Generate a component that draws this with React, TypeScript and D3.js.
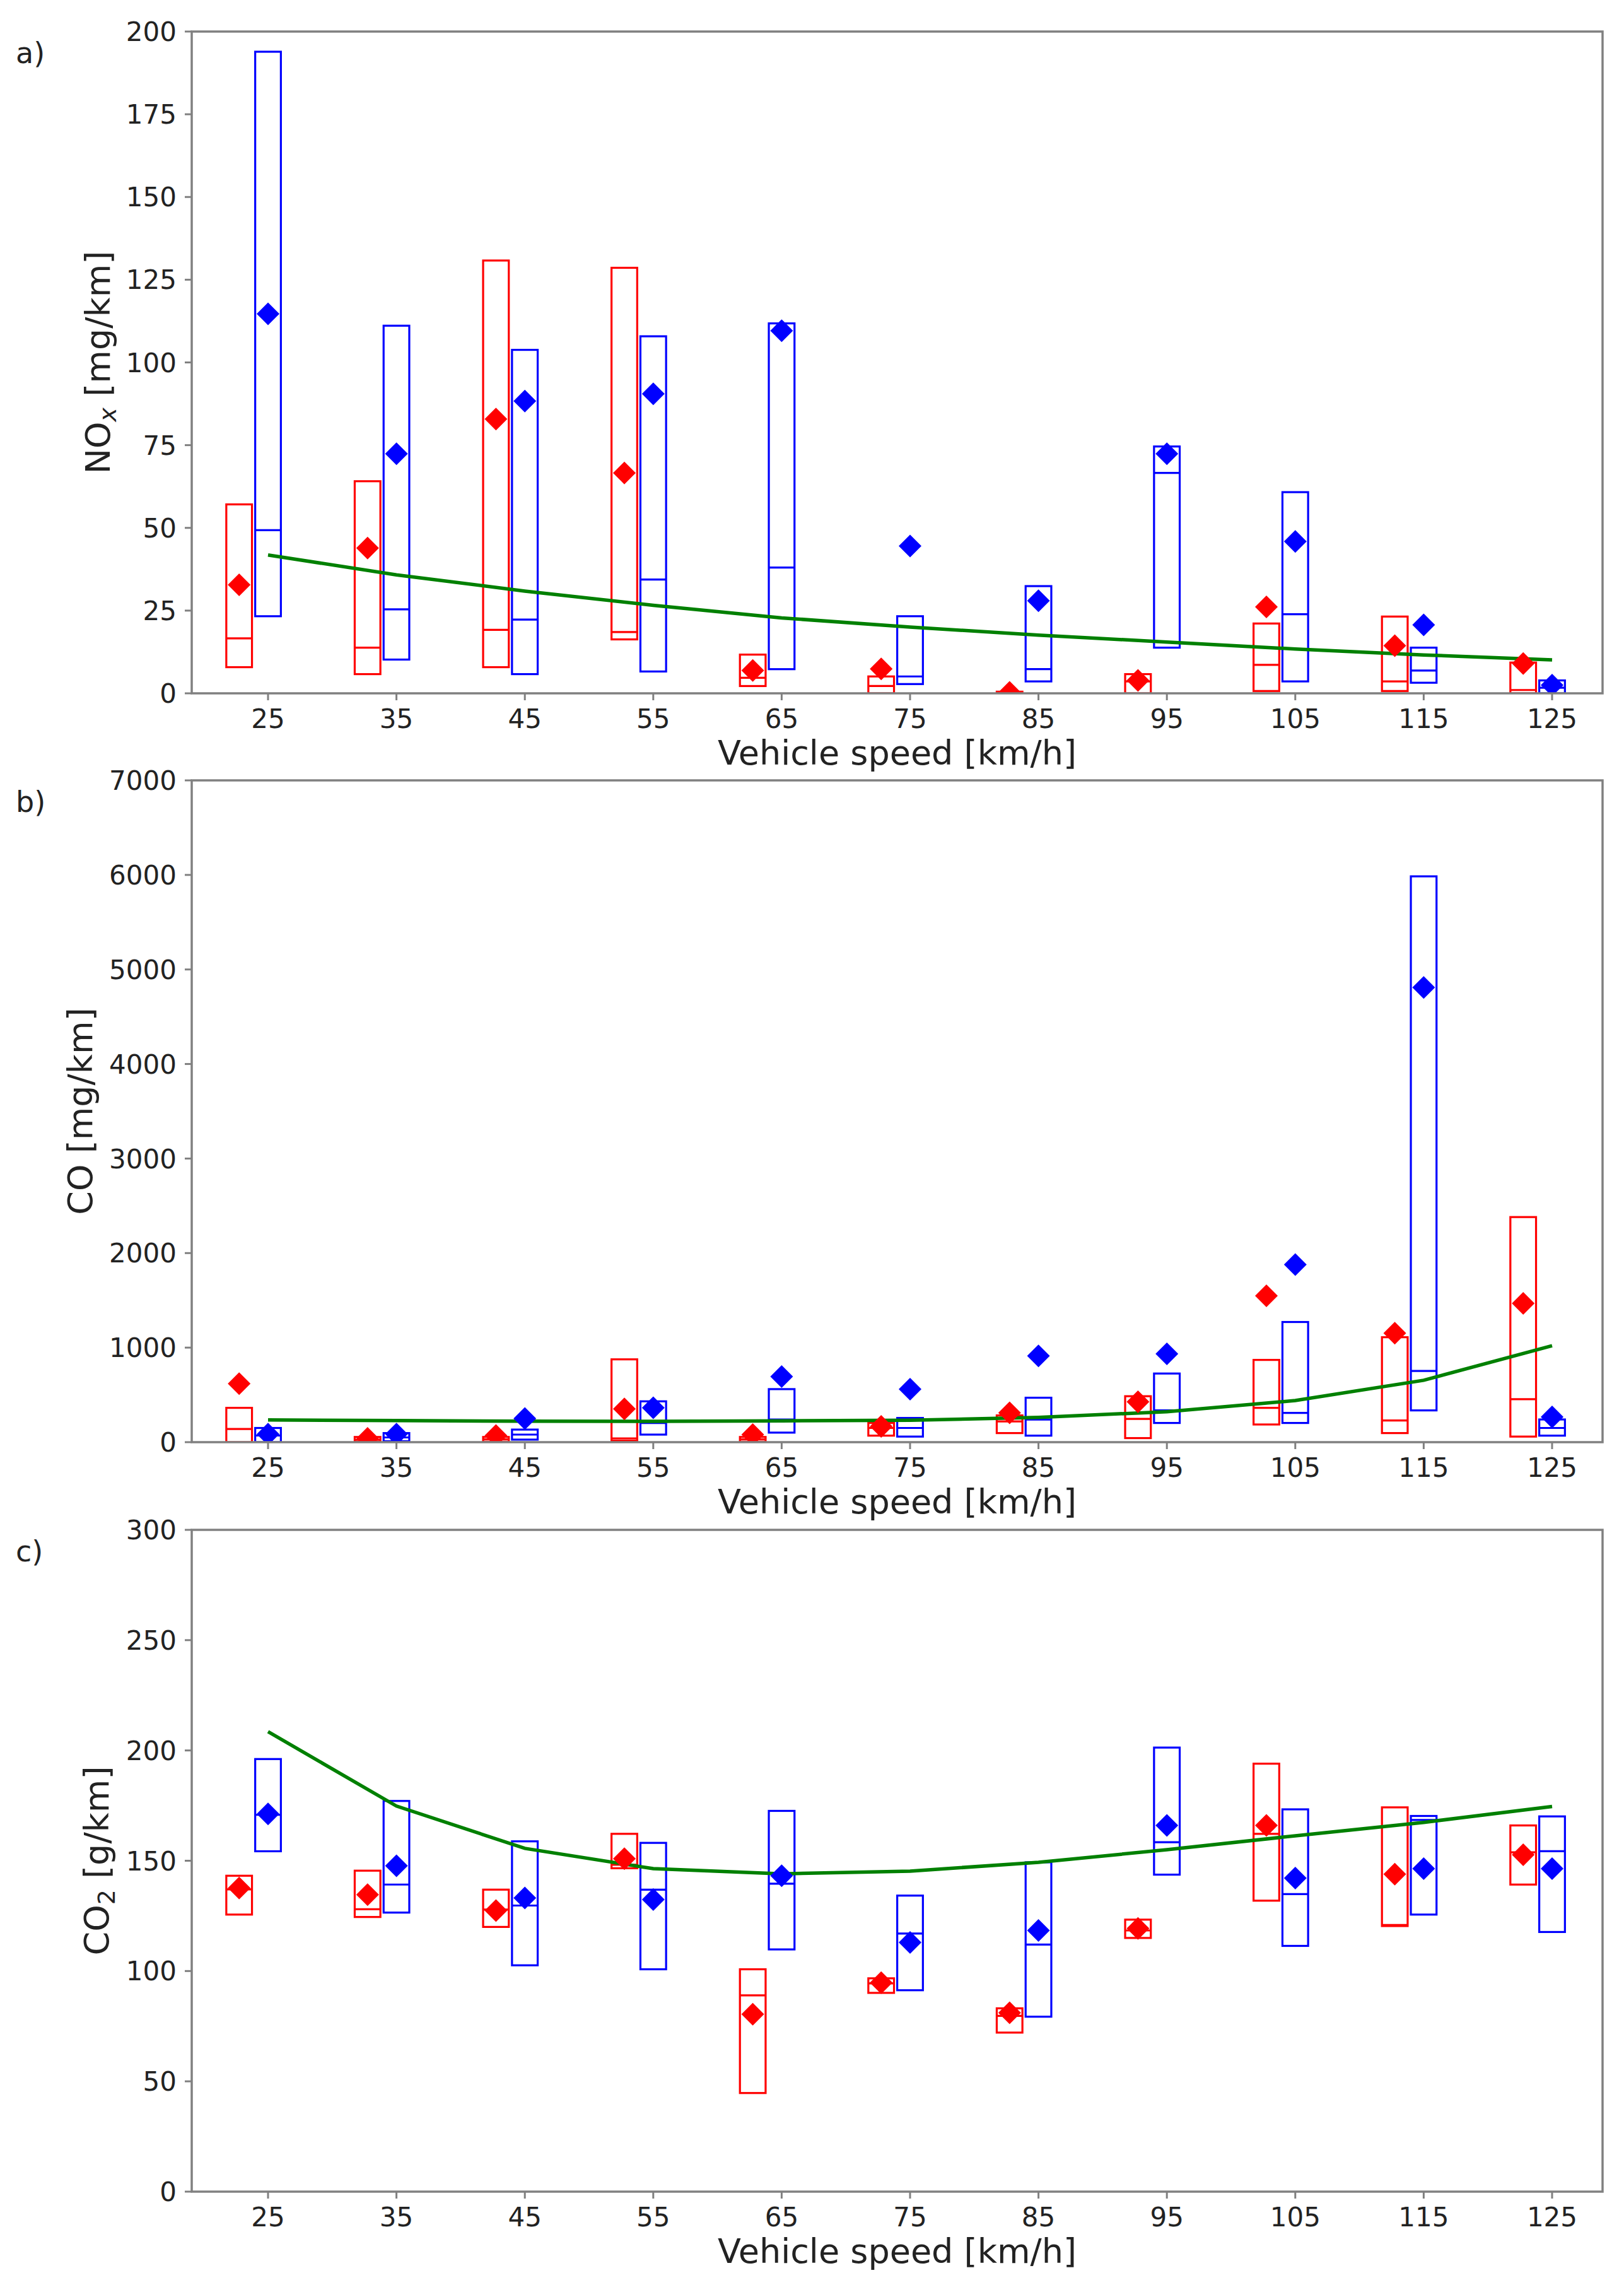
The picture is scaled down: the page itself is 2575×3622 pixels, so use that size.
import React from 'react';
import * as d3 from 'd3';

// ---------- DATA ----------
const speeds = [25, 35, 45, 55, 65, 75, 85, 95, 105, 115, 125];

// a) NOx [mg/km]
const noxRedLow = [7.9, 5.8, 7.9, 16.3, 2.2, 0, 0, 0, 0.7, 0.7, 0];
const noxRedMed = [16.6, 13.8, 19.2, 18.5, 4.7, 2.2, 0.2, 3.6, 8.6, 3.6, 1.0];
const noxRedHigh = [57.1, 64.1, 130.8, 128.6, 11.7, 5.1, 0.5, 5.8, 21.1, 23.2, 9.3];
const noxRedMean = [32.8, 43.9, 82.9, 66.6, 6.9, 7.4, 0.3, 3.9, 26.1, 14.4, 9.0];
const noxBlueLow = [23.3, 10.2, 5.8, 6.6, 7.3, 2.8, 3.6, 13.8, 3.6, 3.2, 0];
const noxBlueMed = [49.3, 25.4, 22.3, 34.4, 38.0, 5.1, 7.3, 66.6, 23.9, 6.9, 1.7];
const noxBlueHigh = [193.9, 111.1, 103.8, 107.9, 111.8, 23.3, 32.4, 74.6, 60.8, 13.8, 3.9];
const noxBlueMean = [114.7, 72.4, 88.3, 90.5, 109.6, 44.5, 28.0, 72.4, 45.9, 20.7, 2.5];
const noxModel = [41.8, 35.8, 30.9, 26.6, 22.8, 20.0, 17.6, 15.5, 13.4, 11.6, 10.1];

// b) CO [mg/km]
const coRedLow = [0, 5, 5, 16, 5, 69, 96, 43, 187, 96, 59];
const coRedMed = [139, 25, 30, 40, 30, 150, 219, 246, 363, 230, 454];
const coRedHigh = [363, 55, 55, 876, 55, 203, 283, 486, 870, 1110, 2381];
const coRedMean = [619, 40, 70, 352, 80, 166, 310, 427, 1548, 1153, 1468];
const coBlueLow = [0, 10, 27, 80, 101, 59, 69, 203, 203, 336, 69];
const coBlueMed = [70, 50, 80, 203, 240, 150, 240, 336, 310, 753, 150];
const coBlueHigh = [150, 96, 133, 432, 561, 256, 470, 726, 1271, 5985, 240];
const coBlueMean = [85, 85, 251, 363, 694, 561, 913, 934, 1879, 4810, 267];
const coModel = [235, 228, 222, 220, 225, 232, 262, 322, 440, 655, 1020];

// c) CO2 [g/km]
const co2RedLow = [125.6, 124.5, 120.0, 146.6, 44.7, 90.1, 72.1, 115.0, 131.9, 120.4, 139.2];
const co2RedMed = [137.0, 128.0, 127.9, 148.2, 89.0, 94.4, 79.7, 118.4, 162.2, 120.9, 153.8];
const co2RedHigh = [143.2, 145.5, 136.9, 162.2, 100.8, 96.7, 83.1, 123.3, 194.0, 174.2, 166.0];
const co2RedMean = [137.6, 134.6, 127.4, 150.9, 80.4, 94.7, 81.1, 119.3, 166.0, 143.9, 152.7];
const co2BlueLow = [154.3, 126.5, 102.6, 100.8, 109.8, 91.3, 79.3, 143.7, 111.4, 125.6, 117.7];
const co2BlueMed = [170.8, 139.2, 129.7, 136.9, 139.6, 117.0, 112.0, 158.4, 134.9, 168.5, 154.3];
const co2BlueHigh = [196.1, 177.1, 158.8, 158.1, 172.6, 134.2, 149.3, 201.3, 173.3, 170.3, 170.1];
const co2BlueMean = [171.2, 147.7, 133.1, 132.4, 143.2, 113.0, 118.4, 166.0, 142.1, 146.4, 146.4];
const co2Model = [208.5, 174.8, 155.6, 146.4, 144.1, 145.3, 149.3, 155.0, 161.3, 167.4, 174.6];

const xLabel = 'Vehicle speed [km/h]';

// ---------- LAYOUT ----------
const W = 2575;
const H = 3622;
const LEFT = 304;
const RIGHT = 2541;
const PH = 1049;
const FONT = "'DejaVu Sans', 'Liberation Sans', sans-serif";
const TICK_FS = 42;
const LABEL_FS = 54;
const TEXT_COLOR = '#222';
const SPINE = '#808080';
const RED = '#ff0000';
const BLUE = '#0000ff';
const GREEN = '#008000';
const RED_OFFSET = -2.25;
const BOX_HALF = 1.0;
const R = 18;

type Series = { low: number[]; med: number[]; high: number[]; mean: number[] };

interface PanelProps {
  id: string;
  top: number;
  yMax: number;
  yStep: number;
  tag: string;
  yLabel: React.ReactNode;
  yLabelX: number;
  red: Series;
  blue: Series;
  model: number[];
}

const diamond = (cx: number, cy: number) =>
  `M${cx},${cy - R}L${cx + R},${cy}L${cx},${cy + R}L${cx - R},${cy}Z`;

function Panel({ id, top, yMax, yStep, tag, yLabel, yLabelX, red, blue, model }: PanelProps) {
  const x = d3.scaleLinear().domain([19.057, 128.93]).range([LEFT, RIGHT]);
  const y = d3.scaleLinear().domain([0, yMax]).range([top + PH, top]);
  const yTicks = d3.range(0, yMax + yStep / 2, yStep);
  const line = d3
    .line<number>()
    .x((_, i) => x(speeds[i]))
    .y((d) => y(d));
  const bottom = top + PH;

  const boxes = (s: Series, offset: number, color: string) =>
    speeds.map((sp, i) => {
      const c = sp + offset;
      const x0 = x(c - BOX_HALF);
      const x1 = x(c + BOX_HALF);
      return (
        <g key={`${color}-${i}`}>
          <rect
            x={x0}
            y={y(s.high[i])}
            width={x1 - x0}
            height={Math.max(0.5, y(s.low[i]) - y(s.high[i]))}
            fill="none"
            stroke={color}
            strokeWidth={3.2}
          />
          <line x1={x0} x2={x1} y1={y(s.med[i])} y2={y(s.med[i])} stroke={color} strokeWidth={3.2} />
        </g>
      );
    });

  const markers = (s: Series, offset: number, color: string) =>
    speeds.map((sp, i) => (
      <path key={`m-${color}-${i}`} d={diamond(x(sp + offset), y(s.mean[i]))} fill={color} />
    ));

  return (
    <g>
      <defs>
        <clipPath id={`clip-${id}`}>
          <rect x={LEFT} y={top} width={RIGHT - LEFT} height={PH} />
        </clipPath>
      </defs>
      <g clipPath={`url(#clip-${id})`}>
        {boxes(red, RED_OFFSET, RED)}
        {boxes(blue, 0, BLUE)}
        <path d={line(model) || ''} fill="none" stroke={GREEN} strokeWidth={5.5} />
        {markers(red, RED_OFFSET, RED)}
        {markers(blue, 0, BLUE)}
      </g>
      {/* spines */}
      <rect x={LEFT} y={top} width={RIGHT - LEFT} height={PH} fill="none" stroke={SPINE} strokeWidth={3.5} />
      {/* y ticks */}
      {yTicks.map((t) => (
        <g key={`yt-${t}`}>
          <line x1={LEFT - 11} x2={LEFT} y1={y(t)} y2={y(t)} stroke={SPINE} strokeWidth={3} />
          <text
            x={LEFT - 24}
            y={y(t)}
            dy="0.36em"
            textAnchor="end"
            fontFamily={FONT}
            fontSize={TICK_FS}
            fill={TEXT_COLOR}
          >
            {t}
          </text>
        </g>
      ))}
      {/* x ticks */}
      {speeds.map((t) => (
        <g key={`xt-${t}`}>
          <line x1={x(t)} x2={x(t)} y1={bottom} y2={bottom + 11} stroke={SPINE} strokeWidth={3} />
          <text
            x={x(t)}
            y={bottom + 55}
            textAnchor="middle"
            fontFamily={FONT}
            fontSize={TICK_FS}
            fill={TEXT_COLOR}
          >
            {t}
          </text>
        </g>
      ))}
      <text
        x={(LEFT + RIGHT) / 2}
        y={bottom + 113}
        textAnchor="middle"
        fontFamily={FONT}
        fontSize={LABEL_FS}
        fill={TEXT_COLOR}
      >
        {xLabel}
      </text>
      <text
        transform={`translate(${yLabelX},${top + PH / 2}) rotate(-90)`}
        textAnchor="middle"
        fontFamily={FONT}
        fontSize={LABEL_FS}
        fill={TEXT_COLOR}
      >
        {yLabel}
      </text>
      <text x={25} y={top + 50} fontFamily={FONT} fontSize={46} fill={TEXT_COLOR}>
        {tag}
      </text>
    </g>
  );
}

export default function App() {
  return (
    <svg
      width={W}
      height={H}
      viewBox={`0 0 ${W} ${H}`}
      style={{ position: 'absolute', left: 0, top: 0, background: '#fff' }}
    >
      <rect x={0} y={0} width={W} height={H} fill="#fff" />
      <Panel
        id="a"
        top={50}
        yMax={200}
        yStep={25}
        tag="a)"
        yLabelX={174}
        yLabel={
          <>
            <tspan>NO</tspan>
            <tspan fontSize={38} fontStyle="italic" dy={10}>
              x
            </tspan>
            <tspan dy={-10}> [mg/km]</tspan>
          </>
        }
        red={{ low: noxRedLow, med: noxRedMed, high: noxRedHigh, mean: noxRedMean }}
        blue={{ low: noxBlueLow, med: noxBlueMed, high: noxBlueHigh, mean: noxBlueMean }}
        model={noxModel}
      />
      <Panel
        id="b"
        top={1237}
        yMax={7000}
        yStep={1000}
        tag="b)"
        yLabelX={146}
        yLabel={<tspan>CO [mg/km]</tspan>}
        red={{ low: coRedLow, med: coRedMed, high: coRedHigh, mean: coRedMean }}
        blue={{ low: coBlueLow, med: coBlueMed, high: coBlueHigh, mean: coBlueMean }}
        model={coModel}
      />
      <Panel
        id="c"
        top={2425}
        yMax={300}
        yStep={50}
        tag="c)"
        yLabelX={172}
        yLabel={
          <>
            <tspan>CO</tspan>
            <tspan fontSize={38} dy={10}>
              2
            </tspan>
            <tspan dy={-10}> [g/km]</tspan>
          </>
        }
        red={{ low: co2RedLow, med: co2RedMed, high: co2RedHigh, mean: co2RedMean }}
        blue={{ low: co2BlueLow, med: co2BlueMed, high: co2BlueHigh, mean: co2BlueMean }}
        model={co2Model}
      />
    </svg>
  );
}
